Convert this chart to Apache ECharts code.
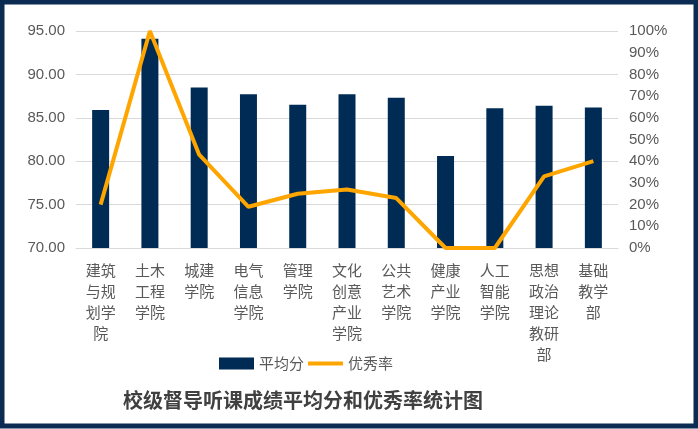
<!DOCTYPE html>
<html>
<head>
<meta charset="utf-8">
<script src="https://cdn.jsdelivr.net/npm/echarts@6/dist/echarts.min.js"></script>
<style>
html,body{margin:0;padding:0;background:#fff;}
#c{width:698px;height:429px;}
</style>
</head>
<body>
<div id="c"></div>
<script>
var categories = ['建筑与规划学院','土木工程学院','城建学院','电气信息学院','管理学院','文化创意产业学院','公共艺术学院','健康产业学院','人工智能学院','思想政治理论教研部','基础教学部'];
var avgScores = [85.9, 94.1, 88.5, 87.7, 86.5, 87.7, 87.3, 80.6, 86.1, 86.4, 86.2];
var excellentRate = [0.20, 1.00, 0.43, 0.19, 0.25, 0.27, 0.23, 0, 0, 0.33, 0.40];
var leftTicks = {min: 70, max: 95, interval: 5};
var rightTicks = {min: 0, max: 1, interval: 0.1};

var chart = echarts.init(document.getElementById('c'));
var cjk = '"Noto Sans CJK SC", sans-serif';
chart.setOption({
  backgroundColor: '#fff',
  animation: false,
  title: {
    text: '校级督导听课成绩平均分和优秀率统计图',
    left: 118, top: 385,
    textStyle: {fontFamily: cjk, fontSize: 20, fontWeight: 'bold', color: '#404040'}
  },
  legend: {
    left: 219, top: 356, padding: 0,
    itemWidth: 35, itemHeight: 12, itemGap: 4,
    textStyle: {fontFamily: cjk, fontSize: 15, color: '#595959'},
    data: [{name: '平均分', icon: 'rect'}, {name: '优秀率', icon: 'path://M0,0H35V4H0Z'}]
  },
  graphic: [{
    type: 'rect', silent: true, z: 100,
    shape: {x: 2, y: 2, width: 694, height: 424},
    style: {fill: 'none', stroke: '#0B2B52', lineWidth: 5}
  }],
  grid: {left: 76, right: 80, top: 31, bottom: 181, containLabel: false},
  xAxis: {
    type: 'category',
    data: categories,
    axisLine: {show: true, lineStyle: {color: '#D9D9D9'}},
    axisTick: {show: false},
    axisLabel: {
      interval: 0, margin: 12,
      fontFamily: cjk, fontSize: 15, lineHeight: 21, color: '#595959',
      formatter: function (v) {
        var out = [];
        for (var i = 0; i < v.length; i += 2) out.push(v.slice(i, i + 2));
        return out.join('\n');
      }
    }
  },
  yAxis: [{
    type: 'value',
    min: leftTicks.min, max: leftTicks.max, interval: leftTicks.interval,
    axisLine: {show: false}, axisTick: {show: false},
    splitLine: {lineStyle: {color: '#D9D9D9', width: 1}},
    axisLabel: {
      margin: 11, fontFamily: 'Liberation Sans', fontSize: 15, color: '#595959',
      formatter: function (v) { return v.toFixed(2); }
    }
  }, {
    type: 'value',
    min: rightTicks.min, max: rightTicks.max, interval: rightTicks.interval,
    axisLine: {show: false}, axisTick: {show: false},
    splitLine: {show: false},
    axisLabel: {
      margin: 11, fontFamily: 'Liberation Sans', fontSize: 15, color: '#595959',
      formatter: function (v) { return Math.round(v * 100) + '%'; }
    }
  }],
  series: [{
    name: '平均分',
    type: 'bar',
    yAxisIndex: 0,
    data: avgScores,
    barWidth: 17,
    itemStyle: {color: '#002B54'}
  }, {
    name: '优秀率',
    type: 'line',
    yAxisIndex: 1,
    data: excellentRate,
    symbol: 'none',
    lineStyle: {color: '#FFA500', width: 4},
    itemStyle: {color: '#FFA500'},
    z: 5
  }]
});
</script>
</body>
</html>
